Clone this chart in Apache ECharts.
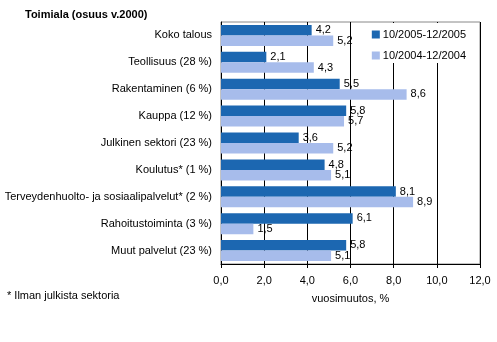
<!DOCTYPE html>
<html><head><meta charset="utf-8">
<script src="https://cdn.jsdelivr.net/npm/echarts@6/dist/echarts.min.js"></script>
<style>html,body{margin:0;padding:0;background:#fff}#c{width:497px;height:342px}</style>
</head><body><div id="c"></div>
<script>
const categories = ["Koko talous","Teollisuus (28 %)","Rakentaminen (6 %)","Kauppa (12 %)","Julkinen sektori (23 %)","Koulutus* (1 %)","Terveydenhuolto- ja sosiaalipalvelut* (2 %)","Rahoitustoiminta (3 %)","Muut palvelut (23 %)"];
const series2005 = [4.2,2.1,5.5,5.8,3.6,4.8,8.1,6.1,5.8];
const series2004 = [5.2,4.3,8.6,5.7,5.2,5.1,8.9,1.5,5.1];
const seriesNames = ["10/2005-12/2005","10/2004-12/2004"];
const fmt = v => v.toFixed(1).replace('.', ',');
const font = 'Liberation Sans, Arial, sans-serif';
const chart = echarts.init(document.getElementById('c'), null, {renderer:'canvas'});
const lbl = {show:true, position:'right', distance:4, color:'#000', fontSize:11, fontFamily:font, formatter:p=>fmt(p.value)};
chart.setOption({
  animation:false,
  title:{text:'Toimiala (osuus v.2000)', left:20, top:4, textStyle:{fontSize:11, fontWeight:'bold', fontFamily:font, color:'#000'}},
  graphic:[{type:'text', left:7, top:290, style:{text:'* Ilman julkista sektoria', fontSize:11, fontFamily:font, fill:'#000'}}],
  legend:{data:seriesNames, orient:'vertical', right:27, top:23, itemWidth:8, itemHeight:8, itemGap:10, itemStyle:{borderWidth:0}, backgroundColor:'#fff', padding:[6,4,2,4], textStyle:{fontSize:11, fontFamily:font, color:'#000', padding:[0,0,0,-2]}, icon:'rect'},
  grid:{left:221, right:17, top:22, bottom:78, show:true, borderColor:'#888', borderWidth:1},
  xAxis:{type:'value', min:0, max:12, interval:2, name:'vuosimuutos, %', nameLocation:'middle', nameGap:29,
    nameTextStyle:{fontSize:11, fontFamily:font, color:'#000'},
    axisLine:{show:true, lineStyle:{color:'#000'}}, axisTick:{show:true, length:4, lineStyle:{color:'#000'}},
    axisLabel:{formatter:v=>fmt(v), fontSize:11, fontFamily:font, color:'#000', margin:11},
    splitLine:{show:true, lineStyle:{color:'#000', width:1}}},
  yAxis:{type:'category', data:categories, inverse:true,
    axisLine:{show:true, lineStyle:{color:'#000'}}, axisTick:{show:false},
    axisLabel:{fontSize:11, fontFamily:font, color:'#000', margin:9}},
  series:[
    {name:seriesNames[0], type:'bar', data:series2005, itemStyle:{color:'#1C67B1'}, barGap:'0%', barCategoryGap:'22%', label:lbl, z:3},
    {name:seriesNames[1], type:'bar', data:series2004, itemStyle:{color:'#A7BCEB'}, barGap:'0%', barCategoryGap:'22%', label:lbl, z:3}
  ]
});
</script></body></html>
